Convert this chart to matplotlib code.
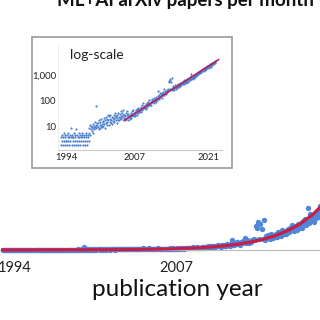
import numpy as np
import matplotlib.pyplot as plt
from matplotlib.patches import Rectangle

plt.rcParams['font.family'] = ['Lato', 'DejaVu Sans']

# monthly paper counts, one list per year
c1993 = [2, 4, 3, 5, 2, 4, 3, 6, 2, 5, 4, 3]
c1994 = [3, 5, 2, 4, 6, 3, 2, 4, 5, 3, 9, 4]
c1995 = [4, 2, 5, 3, 4, 6, 2, 3, 5, 4, 2, 8]
c1996 = [5, 3, 4, 2, 6, 4, 3, 5, 2, 4, 3, 5]
c1997 = [4, 6, 3, 2, 5, 4, 3, 2, 4, 5, 6, 3]
c1998 = [2, 5, 4, 3, 6, 9, 12, 5, 8, 11, 7, 10]
c1999 = [9, 13, 6, 11, 8, 15, 10, 64, 12, 9, 14, 11]
c2000 = [10, 14, 8, 18, 12, 9, 16, 11, 20, 13, 10, 17]
c2001 = [15, 11, 22, 13, 9, 18, 25, 14, 12, 20, 16, 28]
c2002 = [18, 12, 26, 15, 21, 30, 14, 19, 24, 13, 22, 17]
c2003 = [20, 28, 15, 24, 33, 18, 26, 14, 30, 22, 35, 19]
c2004 = [25, 18, 32, 22, 40, 27, 20, 36, 24, 30, 45, 28]
c2005 = [22, 30, 18, 26, 35, 20, 28, 42, 24, 32, 19, 27]
c2006 = [24, 30, 20, 35, 27, 22, 40, 31, 26, 45, 29, 33]
c2007 = [30, 38, 27, 45, 34, 50, 29, 41, 36, 55, 39, 44]
c2008 = [42, 50, 38, 60, 45, 70, 48, 55, 80, 52, 62, 58]
c2009 = [55, 65, 50, 75, 85, 60, 70, 95, 68, 78, 110, 72]
c2010 = [80, 95, 70, 105, 88, 120, 92, 100, 85, 130, 98, 115]
c2011 = [110, 90, 140, 120, 105, 160, 250, 130, 115, 175, 140, 200]
c2012 = [150, 180, 135, 200, 165, 220, 190, 300, 170, 240, 210, 185]
c2013 = [230, 200, 260, 240, 280, 260, 600, 550, 700, 280, 650, 520]
c2014 = [280, 750, 260, 350, 300, 380, 310, 270, 400, 340, 290, 360]
c2015 = [360, 400, 330, 450, 380, 420, 350, 500, 430, 390, 470, 410]
c2016 = [480, 520, 440, 560, 500, 620, 470, 540, 600, 510, 650, 560]
c2017 = [600, 680, 560, 720, 650, 780, 620, 700, 1050, 680, 900, 740]
c2018 = [750, 850, 700, 900, 800, 950, 820, 1000, 1100, 880, 1200, 1000]
c2019 = [1100, 1250, 1050, 1300, 1200, 1400, 1150, 1350, 1500, 1280, 1600, 1450]
c2020 = [1500, 1700, 1400, 1800, 1650, 1900, 1550, 1750, 2100, 1800, 2200, 1950]
c2021 = [2000, 2300, 1900, 2400, 2200, 2600, 2100, 2500, 2800, 2350, 3000, 2700]
c2022 = [2600, 3100, 2800, 3300, 2900, 3500]

counts = (c1993 + c1994 + c1995 + c1996 + c1997 + c1998 + c1999 + c2000 + c2001
          + c2002 + c2003 + c2004 + c2005 + c2006 + c2007 + c2008 + c2009 + c2010
          + c2011 + c2012 + c2013 + c2014 + c2015 + c2016 + c2017 + c2018 + c2019
          + c2020 + c2021 + c2022)
months = 1993 + np.arange(len(counts)) / 12

# exponential fit, read at yearly points
fit_years = [1993, 1997, 2001, 2005, 2006, 2007, 2008, 2009, 2010, 2011, 2012, 2013,
             2014, 2015, 2016, 2017, 2018, 2019, 2020, 2021, 2022, 2023]
fit_vals = [1, 3, 8, 18, 24, 32, 44, 59, 79, 107, 144, 195,
            263, 355, 479, 646, 871, 1175, 1585, 2138, 2884, 3890]

main_ticks = [1994, 2007]
inset_xticks = [1994, 2007, 2021]
inset_yticks = [10, 100, 1000]
inset_ylabels = ['10', '100', '1,000']

W = 320.0
fig = plt.figure(figsize=(3.2, 3.2), dpi=100)

# main (linear) chart
ax = fig.add_axes([0, 66 / W, 1, 254 / W])
ax.scatter(months, counts, s=15, color='#4f86d9', linewidths=0, zorder=2)
ax.plot(fit_years, fit_vals, color='#c81e46', lw=2.3, zorder=3)
ax.set_xlim(1992.79, 2018.64)
ax.set_ylim(-100, 6250)
for s in ['top', 'right', 'left']:
    ax.spines[s].set_visible(False)
ax.spines['bottom'].set_position(('data', 0))
ax.spines['bottom'].set_color('#bbbbbb')
ax.set_yticks([])
ax.set_xticks(main_ticks)
ax.tick_params(axis='x', length=0, pad=8, labelsize=10.5, labelcolor='#222222')

fig.text(177 / W, 1 - 290 / W, 'publication year', ha='center', va='center',
         fontsize=17.5, color='#111111')
fig.text(185 / W, 1 - 6 / W, 'ML+AI arXiv papers per month', ha='center',
         va='baseline', fontsize=13.5, fontweight='bold', color='#111111')

# inset frame
fig.add_artist(Rectangle((32 / W, 1 - 168 / W), 200 / W, 131 / W,
                         transform=fig.transFigure, facecolor='white',
                         edgecolor='#9a9a9a', lw=1.2, zorder=5))

ins = fig.add_axes([58 / W, 1 - 150 / W, 164 / W, 105 / W], zorder=6)
ins.patch.set_alpha(0)
ins.scatter(months, counts, s=2.4, color='#4a7fd0', linewidths=0)
fy = [y for y in fit_years if y >= 2005]
fv = fit_vals[len(fit_years) - len(fy):]
ins.plot(fy, fv, color='#b0245a', lw=1.2)
ins.set_yscale('log')
ins.set_xlim(1992.42, 2023.66)
ins.set_ylim(1.3, 14250)
ins.minorticks_off()
ins.set_xticks(inset_xticks)
ins.set_yticks(inset_yticks)
ins.set_yticklabels(inset_ylabels)
ins.tick_params(length=0, labelsize=6.8, labelcolor='#222222')
ins.tick_params(axis='y', pad=1.5)
ins.tick_params(axis='x', pad=2.5)
ins.spines['top'].set_visible(False)
ins.spines['right'].set_visible(False)
ins.spines['bottom'].set_color('#cccccc')
ins.spines['left'].set_color('#e8e8e8')
ins.spines['left'].set_linewidth(0.6)
fig.text(70 / W, 1 - 55 / W, 'log-scale', ha='left', va='center', fontsize=10,
         color='#222222', zorder=7)

plt.savefig('out.png', dpi=100)
